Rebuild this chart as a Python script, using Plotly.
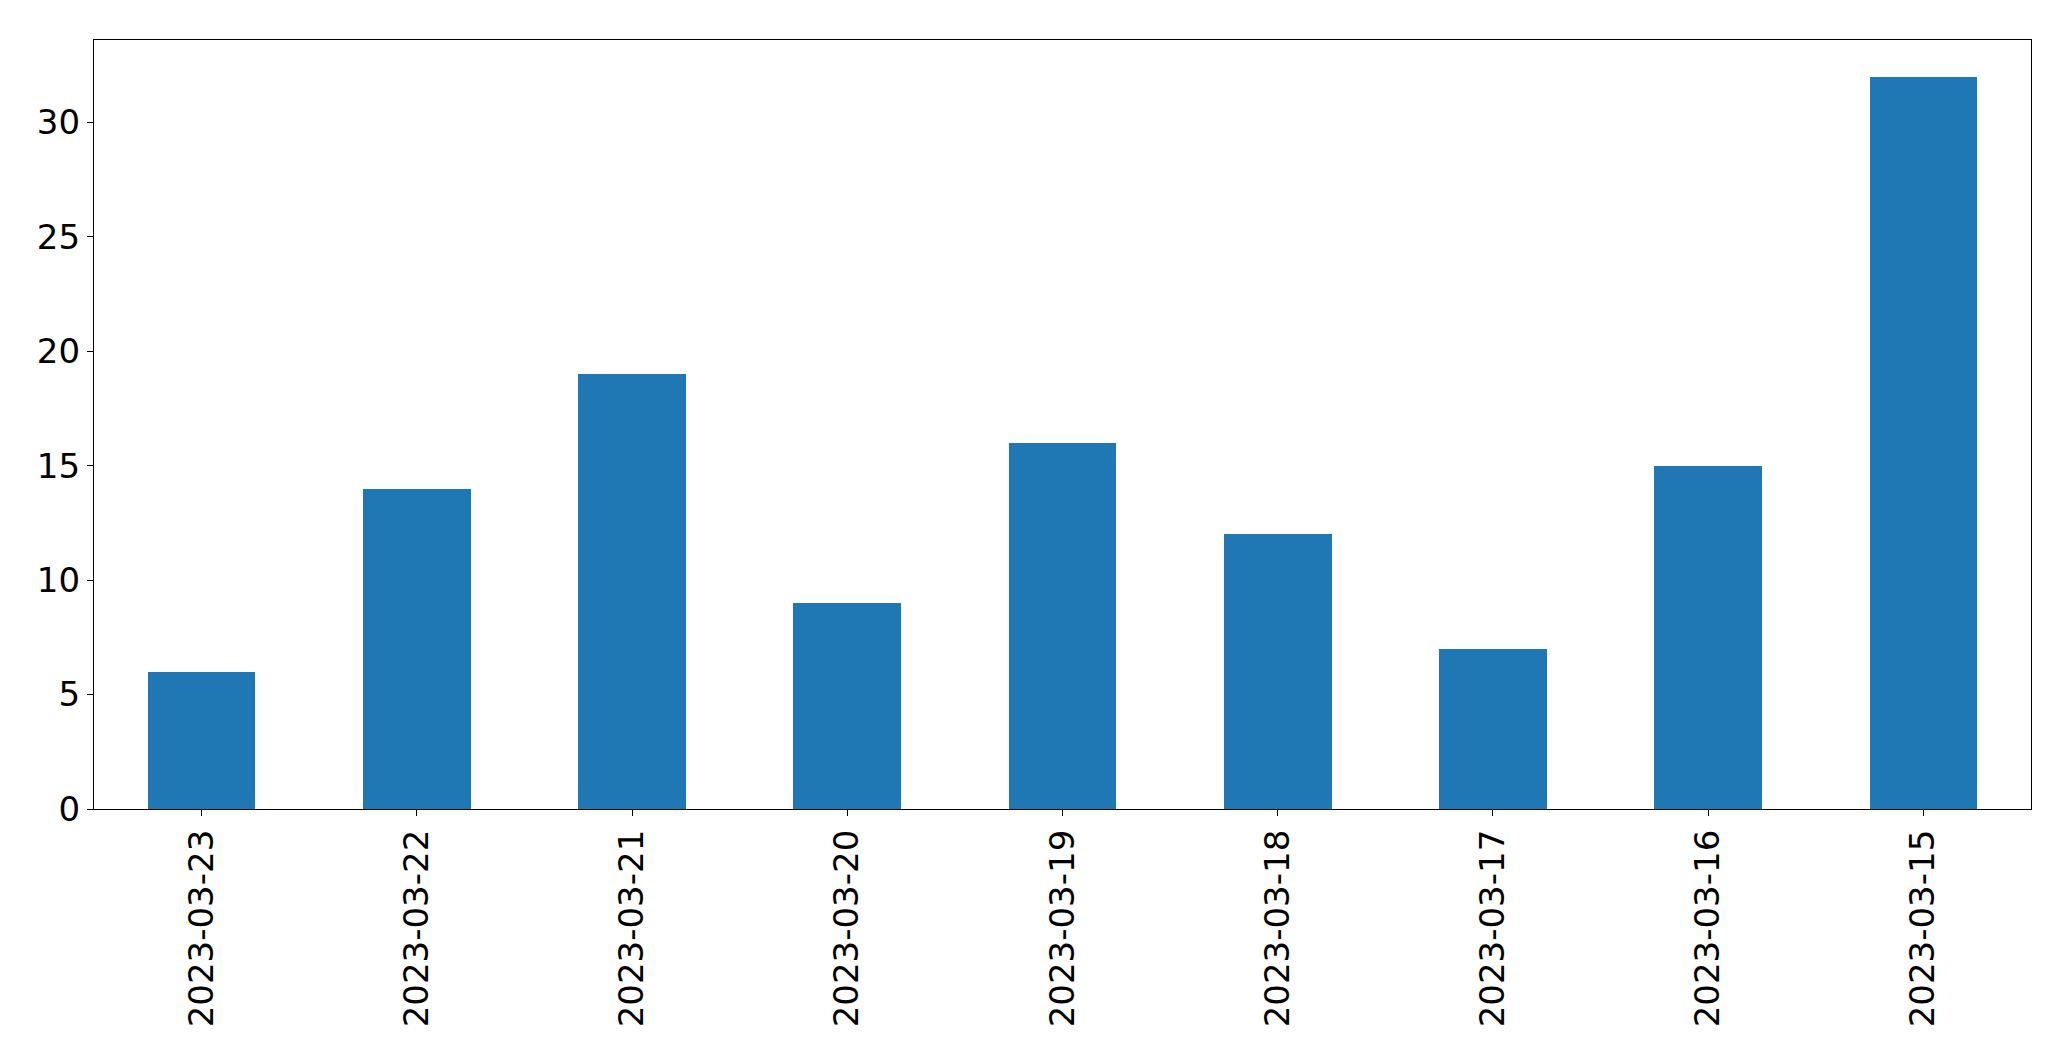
import plotly.graph_objects as go

dates = ["2023-03-23", "2023-03-22", "2023-03-21", "2023-03-20", "2023-03-19",
         "2023-03-18", "2023-03-17", "2023-03-16", "2023-03-15"]
counts = [6, 14, 19, 9, 16, 12, 7, 15, 32]
y_ticks = [0, 5, 10, 15, 20, 25, 30]

fig = go.Figure(go.Bar(x=dates, y=counts, width=0.5, marker=dict(color="#1f77b4", line=dict(width=0))))

fig.update_layout(
    width=2055, height=1045,
    margin=dict(l=86, r=32, t=32, b=244),
    paper_bgcolor="white", plot_bgcolor="white",
    font=dict(family="DejaVu Sans", size=34, color="black"),
    showlegend=False,
    bargap=0,
)
fig.update_xaxes(
    type="category", range=[-0.5, 8.5],
    showline=True, linecolor="black", linewidth=1.3, mirror=True,
    ticks="outside", ticklen=6, tickwidth=1.3, tickcolor="black",
    tickangle=-90, showgrid=False, zeroline=False,
    tickfont=dict(size=34, family="DejaVu Sans"),
)
fig.update_yaxes(
    range=[0, 33.6], tickvals=y_ticks,
    showline=True, linecolor="black", linewidth=1.3, mirror=True,
    ticks="outside", ticklen=6, tickwidth=1.3, tickcolor="black",
    showgrid=False, zeroline=False,
    tickfont=dict(size=34, family="DejaVu Sans"),
)

fig.write_html("out.html")
